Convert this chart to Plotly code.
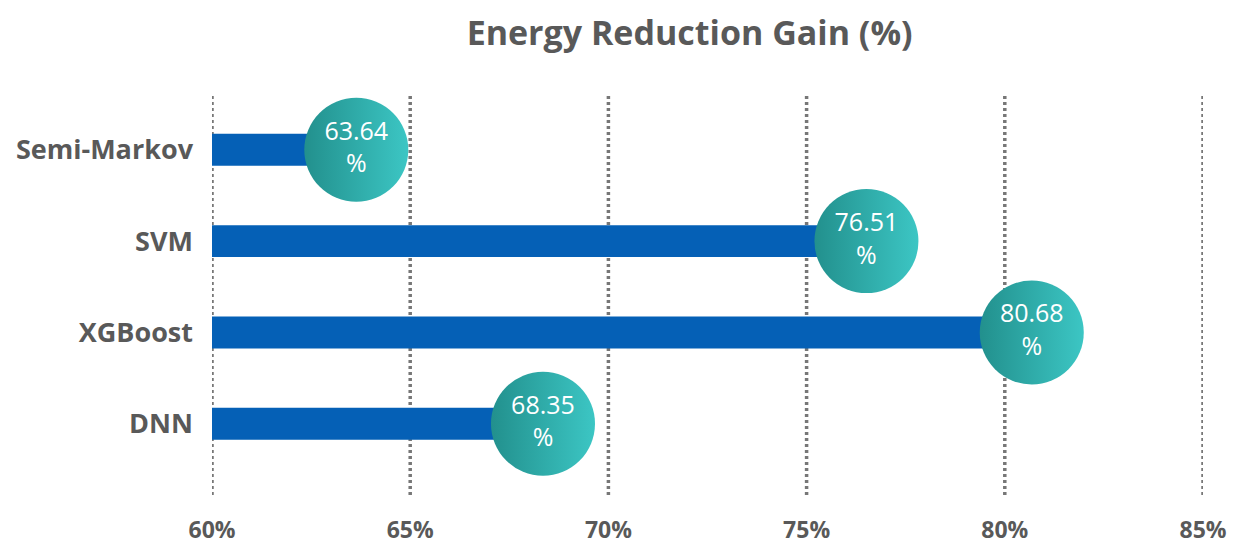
import plotly.graph_objects as go

categories = ["Semi-Markov", "SVM", "XGBoost", "DNN"]
values = [63.64, 76.51, 80.68, 68.35]
tick_vals = [60, 65, 70, 75, 80, 85]
tick_text = ["60%", "65%", "70%", "75%", "80%", "85%"]
base = 60

FONT = "Open Sans"
GRAY = "#595959"

fig = go.Figure()
fig.add_trace(go.Bar(
    y=categories, x=[v - base for v in values], base=base, orientation="h",
    width=0.35, marker=dict(color="#0560B6", line=dict(width=0)),
    hoverinfo="skip", showlegend=False,
))
fig.add_trace(go.Scatter(
    y=categories, x=values, mode="markers+text",
    text=[f"{v:.2f}<br>%" for v in values], textposition="middle center",
    textfont=dict(family=FONT, size=25, color="white"),
    marker=dict(size=104, color="#22908D",
                gradient=dict(type="horizontal", color="#3CC6C4"),
                line=dict(width=0)),
    showlegend=False, cliponaxis=False,
))

for tv in tick_vals:
    fig.add_shape(type="line", xref="x", yref="paper", x0=tv, x1=tv, y0=0, y1=1,
                  line=dict(color="#777777", width=3.5, dash="3px,3px"), layer="below")

fig.update_layout(
    width=1237, height=538,
    paper_bgcolor="white", plot_bgcolor="white",
    margin=dict(l=204, r=42, t=87, b=51),
    title=dict(text="<b>Energy Reduction Gain (%)</b>", x=0.551, xanchor="center",
               y=0.954, yanchor="middle",
               font=dict(family=FONT, size=34, color=GRAY)),
    xaxis=dict(range=[60, 85], tickvals=tick_vals, ticktext=tick_text,
               showgrid=False, automargin=False,
               zeroline=False, showline=False, ticks="", ticklabelstandoff=19,
               tickfont=dict(family=FONT, size=23, color=GRAY, weight="bold")),
    yaxis=dict(type="category", categoryorder="array", categoryarray=categories,
               range=[3.78, -0.6], showgrid=False, zeroline=False, showline=False,
               automargin=False, ticks="", ticklabelstandoff=18,
               tickfont=dict(family=FONT, size=27, color=GRAY, weight="bold")),
    font=dict(family=FONT),
)

fig.write_html("out.html")
